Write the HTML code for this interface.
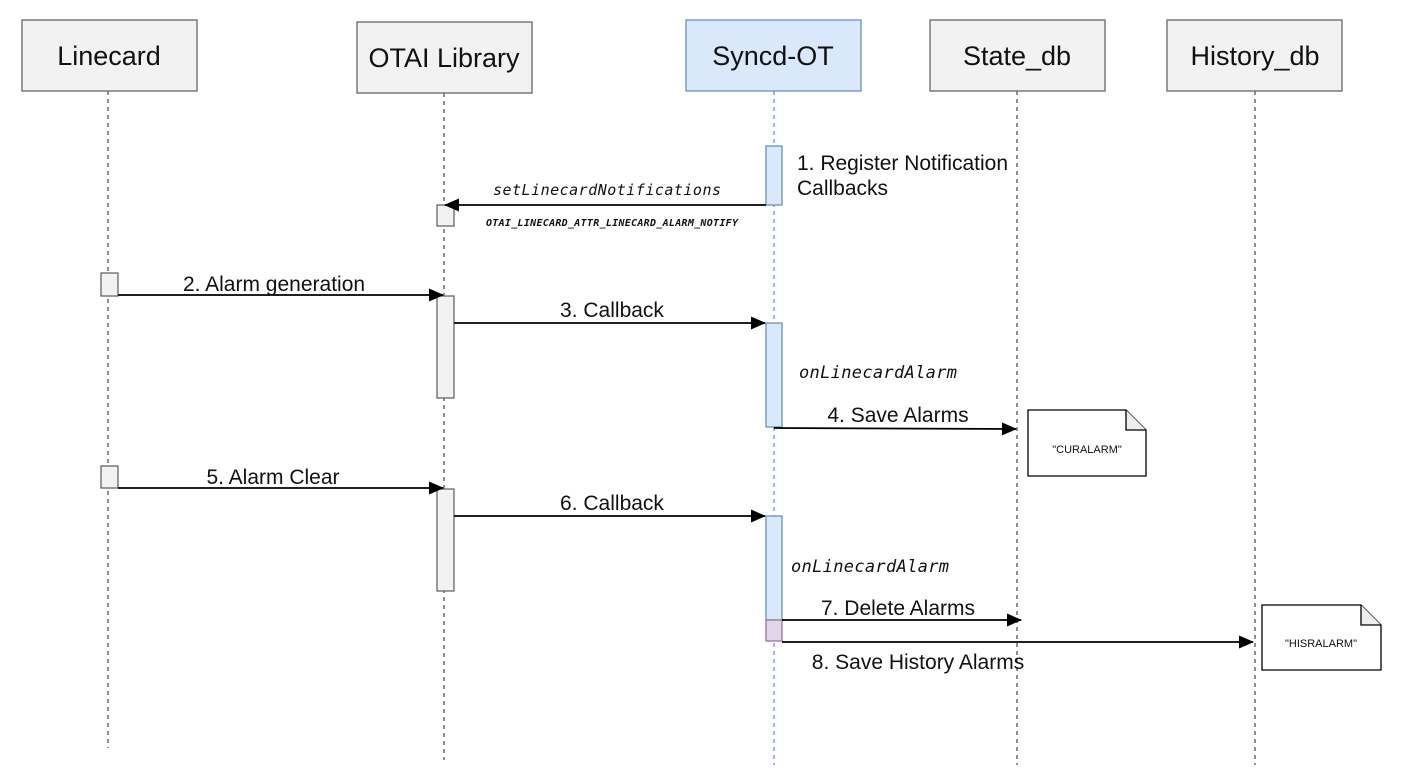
<!DOCTYPE html>
<html><head><meta charset="utf-8"><style>
html,body{margin:0;padding:0;background:#fff;}
svg{display:block;}
text{font-family:"Liberation Sans",sans-serif;fill:#111;}
.m{font-family:"DejaVu Sans Mono","Liberation Mono",monospace;font-style:italic;}
</style></head><body>
<svg width="1403" height="776" viewBox="0 0 1403 776" xmlns="http://www.w3.org/2000/svg">
<defs><marker id="a" markerWidth="15" markerHeight="13" refX="14" refY="6.5" orient="auto" markerUnits="userSpaceOnUse"><path d="M0,0 L15,6.5 L0,13 Z" fill="#000"/></marker></defs>
<g stroke-dasharray="4,4" stroke-width="1.3">
<line x1="108" y1="91" x2="108" y2="748" stroke="#555"/>
<line x1="444" y1="93" x2="444" y2="760" stroke="#555"/>
<line x1="774" y1="91" x2="774" y2="765" stroke="#6c8ebf"/>
<line x1="1017" y1="91" x2="1017" y2="765" stroke="#555"/>
<line x1="1255" y1="91" x2="1255" y2="765" stroke="#555"/>
</g>
<g stroke-width="1.3">
<rect x="22" y="20" width="175" height="71" fill="#f2f2f2" stroke="#666"/>
<rect x="357" y="22" width="175" height="71" fill="#f2f2f2" stroke="#666"/>
<rect x="686" y="20" width="175" height="71" fill="#dae8fc" stroke="#6c8ebf"/>
<rect x="930" y="20" width="175" height="71" fill="#f2f2f2" stroke="#666"/>
<rect x="1167" y="20" width="175" height="71" fill="#f2f2f2" stroke="#666"/>
</g>
<g font-size="27" text-anchor="middle">
<text x="109" y="65">Linecard</text>
<text x="444" y="67">OTAI Library</text>
<text x="773" y="65">Syncd-OT</text>
<text x="1017" y="65">State_db</text>
<text x="1255" y="65">History_db</text>
</g>
<g stroke-width="1.3">
<rect x="766" y="146" width="16" height="59" fill="#dae8fc" stroke="#6c8ebf"/>
<rect x="437" y="205" width="17" height="21" fill="#f2f2f2" stroke="#666"/>
<rect x="101" y="273" width="17" height="23" fill="#f2f2f2" stroke="#666"/>
<rect x="437" y="296" width="17" height="102" fill="#f2f2f2" stroke="#666"/>
<rect x="766" y="323" width="16" height="104" fill="#dae8fc" stroke="#6c8ebf"/>
<rect x="101" y="466" width="17" height="22" fill="#f2f2f2" stroke="#666"/>
<rect x="437" y="489" width="17" height="102" fill="#f2f2f2" stroke="#666"/>
<rect x="766" y="516" width="16" height="104" fill="#dae8fc" stroke="#6c8ebf"/>
<rect x="766" y="620" width="16" height="21" fill="#e1d5e7" stroke="#9673a6"/>
</g>
<g stroke="#000" stroke-width="1.8" marker-end="url(#a)">
<line x1="766" y1="205" x2="445" y2="205"/>
<line x1="118" y1="295" x2="443" y2="295"/>
<line x1="454" y1="323" x2="765" y2="323"/>
<line x1="774" y1="428" x2="1016" y2="429"/>
<line x1="118" y1="488" x2="443" y2="488"/>
<line x1="454" y1="516" x2="765" y2="516"/>
<line x1="782" y1="620" x2="1021" y2="620"/>
<line x1="782" y1="642" x2="1253" y2="642"/>
</g>
<g font-size="21">
<text x="797" y="170" textLength="211">1. Register Notification</text>
<text x="797" y="195">Callbacks</text>
<text x="274" y="291" text-anchor="middle">2. Alarm generation</text>
<text x="612" y="317" text-anchor="middle">3. Callback</text>
<text x="898" y="422" text-anchor="middle">4. Save Alarms</text>
<text x="273" y="484" text-anchor="middle">5. Alarm Clear</text>
<text x="612" y="510" text-anchor="middle">6. Callback</text>
<text x="898" y="615" text-anchor="middle">7. Delete Alarms</text>
<text x="918" y="669" text-anchor="middle">8. Save History Alarms</text>
</g>
<text class="m" x="493" y="195" font-size="15" textLength="228">setLinecardNotifications</text>
<text class="m" x="486" y="226" font-size="10" font-weight="bold" textLength="252">OTAI_LINECARD_ATTR_LINECARD_ALARM_NOTIFY</text>
<text class="m" x="799" y="378" font-size="17" textLength="158">onLinecardAlarm</text>
<text class="m" x="791" y="572" font-size="17" textLength="158">onLinecardAlarm</text>
<g stroke="#000" stroke-width="1.3" fill="#fff">
<path d="M1028,410 H1126 L1146,430 V476 H1028 Z"/>
<path d="M1126,410 V430 H1146" fill="#eee"/>
<path d="M1262,605 H1361 L1381,625 V670 H1262 Z"/>
<path d="M1361,605 V625 H1381" fill="#eee"/>
</g>
<text x="1087" y="453" font-size="11" text-anchor="middle">"CURALARM"</text>
<text x="1321" y="647" font-size="11" text-anchor="middle">"HISRALARM"</text>
</svg>
</body></html>
